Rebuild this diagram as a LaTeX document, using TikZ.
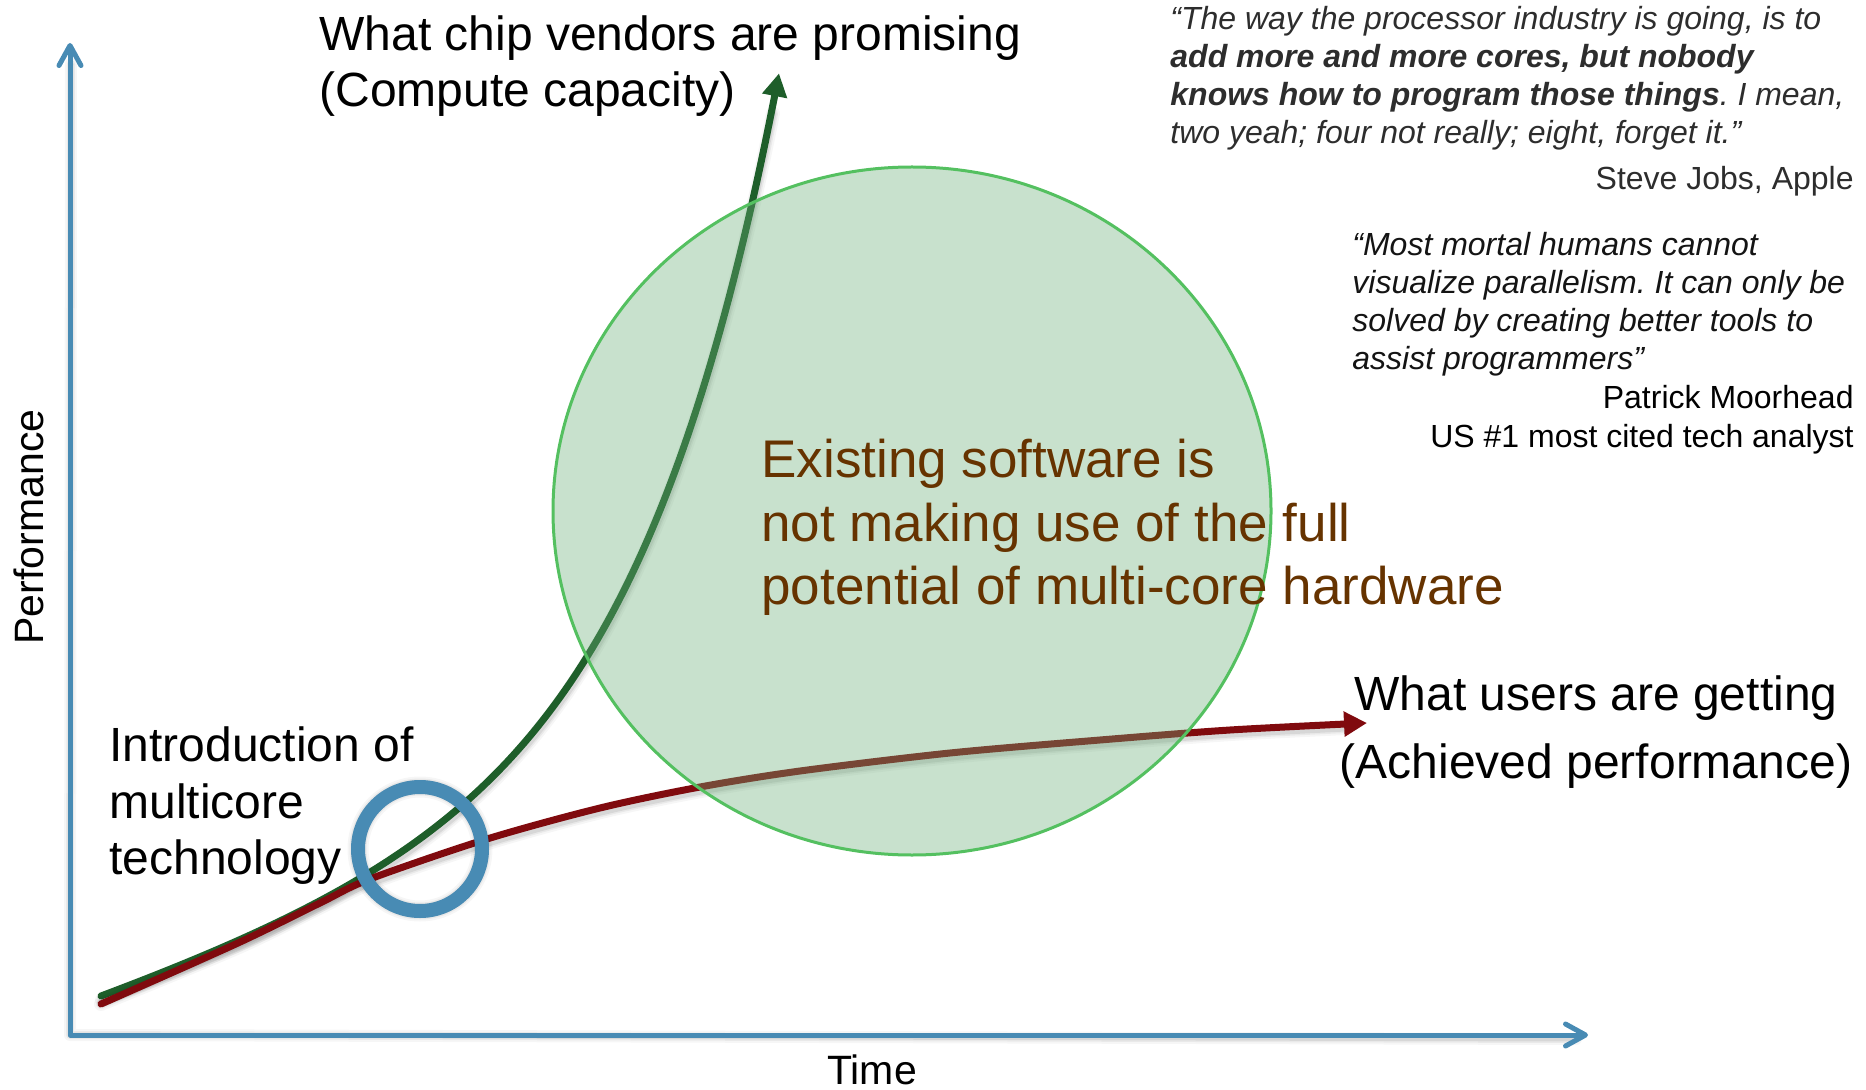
\documentclass[tikz,border=0pt]{standalone}
\usepackage{fontspec}
\setmainfont{Liberation Sans}
\usetikzlibrary{arrows.meta,shapes.geometric}
\frenchspacing

\definecolor{axisblue}{RGB}{72,139,180}
\definecolor{chipgreen}{RGB}{30,94,42}
\definecolor{userred}{RGB}{128,10,14}
\definecolor{gapfill}{RGB}{106,174,120}
\definecolor{gapedge}{RGB}{84,192,96}
\definecolor{gaptext}{RGB}{102,51,0}
\definecolor{quotegrey}{RGB}{45,45,45}

% soft drop shadow under a stroked path: #1 = base line width, #2 = path
\newcommand{\softshadow}[2]{%
  \foreach \extra/\op in {0pt/0.08,1.5pt/0.05,3.5pt/0.035}{%
    \draw[black, opacity=\op, line width=#1+\extra, line cap=round,
          line join=round, shift={(1,4)}] #2;}}

% promised compute capacity: linear part plus exponential growth
\tikzset{declare function={capacity(\t)=1035-(39+0.334*(\t-101)+6.085*(exp(0.007*(\t-101))-1));}}

\tikzset{
  axisbarb/.tip={Straight Barb[length=10pt,width=11pt,line cap=round,line join=round]},
  curvehead/.tip={Triangle[length=11.5pt,width=12pt]},
  axisline/.style={draw=axisblue, line width=2.5pt, line cap=round, line join=round},
  curveline/.style={line width=3.5pt, line cap=round},
  lbl/.style={inner sep=0pt, font=\fontsize{24pt}{28pt}\selectfont},
  axislbl/.style={inner sep=0pt, font=\fontsize{20.5pt}{24pt}\selectfont},
  gaplbl/.style={inner sep=0pt, text=gaptext, font=\fontsize{26.5pt}{32pt}\selectfont},
  quoteA/.style={inner sep=0pt, text=quotegrey, font=\fontsize{16pt}{19pt}\selectfont\itshape},
  quoteB/.style={inner sep=0pt, text=black!92, font=\fontsize{16pt}{19pt}\selectfont\itshape},
  attrib/.style={inner sep=0pt, font=\fontsize{16pt}{19pt}\selectfont},
}

\begin{document}
\begin{tikzpicture}[x=0.5pt, y=-0.5pt]
\useasboundingbox (0,0) rectangle (1866,1090);

% ---- axes ----
\coordinate (ytip) at (70,43);
\coordinate (orig) at (70,1035);
\coordinate (xtip) at (1588,1035);
\softshadow{2.5pt}{(70,60) -- (orig) -- (1575,1035)}
\draw[axisline, {axisbarb}-{axisbarb}] (ytip) -- (orig) -- (xtip);

% ---- compute capacity curve ----
\softshadow{3.5pt}{plot[domain=101:772, samples=120] (\x, {capacity(\x)})}
\draw[curveline, draw=chipgreen, -{curvehead}]
  plot[domain=101:779, samples=150] (\x, {capacity(\x)});

% ---- achieved performance curve ----
\coordinate (rstart) at (101,1004);
\coordinate (rtip) at (1367,723);
\softshadow{3.5pt}{plot[smooth] coordinates {(rstart) (238,943) (320,903) (370,879)
    (487,839) (600,808) (700,787) (800,771) (950,753) (1100,740) (1230,730) (1345,724)}}
\draw[curveline, draw=userred, -{curvehead}]
  plot[smooth] coordinates {(rstart) (238,943) (320,903) (370,879)
    (487,839) (600,808) (700,787) (800,771) (950,753) (1100,740) (1230,730) (rtip)};

% ---- the gap ----
\node[ellipse, minimum width=359pt, minimum height=344pt, inner sep=0pt,
      fill=gapfill, fill opacity=0.37, draw=gapedge, line width=1.5pt]
  (gap) at (912,511) {};

% ---- introduction of multicore ----
\coordinate (ringc) at (420,849);
\softshadow{7pt}{(ringc) circle[radius=31pt]}
\node[circle, minimum size=62pt, inner sep=0pt, draw=axisblue, line width=7pt]
  (ring) at (ringc) {};

% ---- axis labels ----
\node[axislbl, rotate=90, anchor=base] (perf) at (43,527) {Performance};
\node[axislbl, anchor=base] (time) at (872,1084) {Time};

% ---- curve labels ----
\node[lbl, anchor=base west] (chipA) at (319,51) {What chip vendors are promising};
\node[lbl, anchor=base west] (chipB) at (319,107) {(Compute capacity)};
\node[lbl, anchor=base] (userA) at (1596,710) {What users are getting};
\node[lbl, anchor=base] (userB) at (1596,778) {(Achieved performance)};
\node[lbl, anchor=base west] (introA) at (109,761) {Introduction of};
\node[lbl, anchor=base west] (introB) at (109,818) {multicore};
\node[lbl, anchor=base west] (introC) at (109,874) {technology};

% ---- gap text ----
\node[gaplbl, anchor=base west] (gapA) at (761,477) {Existing software is};
\node[gaplbl, anchor=base west] (gapB) at (761,541) {not making use of the full};
\node[gaplbl, anchor=base west] (gapC) at (761,604) {potential of multi-core hardware};

% ---- quotes ----
\node[quoteA, anchor=base west] (qa1) at (1170,30) {“The way the processor industry is going, is to};
\node[quoteA, anchor=base west] (qa2) at (1170,68) {\textbf{add more and more cores, but nobody}};
\node[quoteA, anchor=base west] (qa3) at (1170,106) {\textbf{knows how to program those things}. I mean,};
\node[quoteA, anchor=base west] (qa4) at (1170,144) {two yeah; four not really; eight, forget it.”};
\node[attrib, text=quotegrey, anchor=base east] (qaw) at (1854,190) {Steve Jobs, Apple};

\node[quoteB, anchor=base west] (qb1) at (1352,256) {“Most mortal humans cannot};
\node[quoteB, anchor=base west] (qb2) at (1352,294) {visualize parallelism. It can only be};
\node[quoteB, anchor=base west] (qb3) at (1352,332) {solved by creating better tools to};
\node[quoteB, anchor=base west] (qb4) at (1352,370) {assist programmers”};
\node[attrib, anchor=base east] (qbw1) at (1854,409) {Patrick Moorhead};
\node[attrib, anchor=base east] (qbw2) at (1854,447) {US \#1 most cited tech analyst};
\end{tikzpicture}
\end{document}
